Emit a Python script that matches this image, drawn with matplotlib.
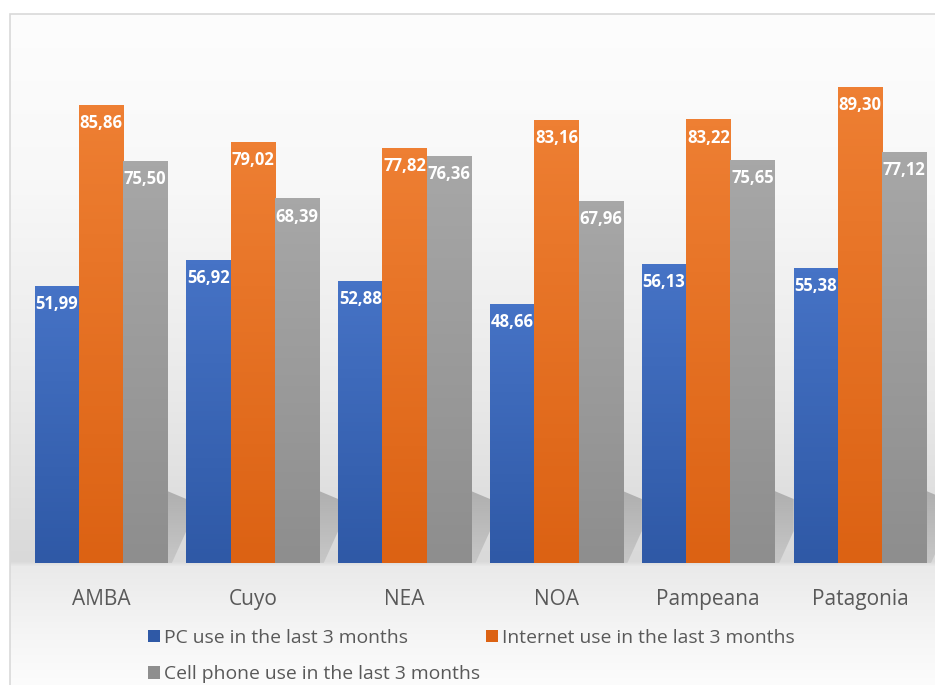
import matplotlib.pyplot as plt
import numpy as np
from matplotlib.patches import Patch, Rectangle, Polygon
from matplotlib.colors import LinearSegmentedColormap

regions = ['AMBA', 'Cuyo', 'NEA', 'NOA', 'Pampeana', 'Patagonia']
pc_use = [51.99, 56.92, 52.88, 48.66, 56.13, 55.38]
internet_use = [85.86, 79.02, 77.82, 83.16, 83.22, 89.30]
cell_use = [75.50, 68.39, 76.36, 67.96, 75.65, 77.12]
series_names = ['PC use in the last 3 months',
                'Internet use in the last 3 months',
                'Cell phone use in the last 3 months']

# (top colour, bottom colour) for each series
shades = [('#4673c6', '#2f59a6'), ('#ee7f33', '#dc6213'), ('#a7a7a7', '#8e8e8e')]

W, H = 935, 685
fig = plt.figure(figsize=(W / 100, H / 100), dpi=100)
fig.patch.set_facecolor('white')

# chart area background: soft grey fade towards the baseline
bg = fig.add_axes([10 / W, 0, 1 - 10 / W, (H - 14) / H])
rows = np.arange(14, H)
grey = np.interp(rows, [14, 180, 380, 561, 566, 640, 685],
                 [253, 248, 234, 217, 234, 246, 252]) / 255
bg.imshow(np.tile(grey[:, None, None], (1, 2, 3)), aspect='auto',
          extent=[0, 1, 0, 1], interpolation='bilinear')
bg.set_xlim(0, 1)
bg.set_ylim(0, 1)
bg.axis('off')
fig.add_artist(Rectangle((10 / W, -0.01), 1.0, (H - 14) / H + 0.01,
                         transform=fig.transFigure, fill=False,
                         edgecolor='#d9d9d9', linewidth=1.2))

base_px, top_px = 563, 30
ax = fig.add_axes([25 / W, (H - base_px) / H, 911 / W, (base_px - top_px) / H])
ax.patch.set_alpha(0)

x = np.arange(len(regions))
w = 0.2915

# soft shadow cast to the right of each group
shadow = np.zeros((64, 2, 4))
shadow[..., :3] = 0.5
shadow[..., 3] = np.linspace(0.2, 0.5, 64)[::-1, None]
for xi in x:
    x1 = xi + 1.5 * w
    x2 = xi + 1 - 1.5 * w
    poly = Polygon([(x1, 0), (x1, 13.5), (x2, 12), (x2, 6), (x1 + 0.03, 0)],
                   closed=True, facecolor='none', edgecolor='none')
    ax.add_patch(poly)
    sh = ax.imshow(shadow, extent=[x1, x2, 0, 13.5], aspect='auto',
                   interpolation='bilinear', zorder=1)
    sh.set_clip_path(poly)

for k, vals in enumerate([pc_use, internet_use, cell_use]):
    c_top, c_bot = shades[k]
    cmap = LinearSegmentedColormap.from_list('g%d' % k, [c_bot, c_top])
    bars = ax.bar(x + (k - 1) * w, vals, w, color=c_top, linewidth=0, zorder=2)
    for b, v in zip(bars, vals):
        x0 = b.get_x()
        img = ax.imshow(np.linspace(0, 1, 64)[::-1, None], cmap=cmap,
                        extent=[x0, x0 + w, 0, v], aspect='auto', zorder=2)
        img.set_clip_path(b)
        ax.text(x0 + w / 2, v - 3.4, f'{v:.2f}'.replace('.', ','),
                ha='center', va='center', color='white', fontsize=12,
                fontweight='bold', family='Open Sans', zorder=3)

ax.set_xlim(-0.5, 5.5)
ax.set_ylim(0, 100)
ax.set_xticks(x)
ax.set_xticklabels(regions, fontsize=15, color='#595959', family='Open Sans')
ax.tick_params(axis='x', length=0, pad=19)
ax.set_yticks([])
for s in ax.spines.values():
    s.set_visible(False)

handles = [Patch(facecolor=shades[0][1]), Patch(facecolor=shades[2][1]),
           Patch(facecolor=shades[1][1])]
labels = [series_names[0], series_names[2], series_names[1]]
fig.legend(handles, labels, ncol=2, loc='upper left',
           bbox_to_anchor=(148 / W, 1 - 629 / H), frameon=False,
           prop={'family': 'Open Sans', 'size': 13.9},
           labelcolor='#595959', handlelength=0.62, handleheight=0.62,
           handletextpad=0.2, labelspacing=0.95, columnspacing=0.3,
           borderpad=0, borderaxespad=0)

fig.savefig('out.png', dpi=100)
